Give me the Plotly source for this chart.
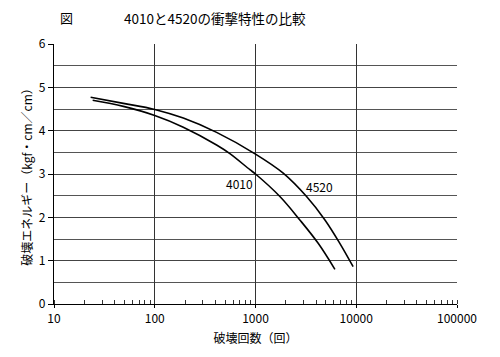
import plotly.graph_objects as go

# Data
x_4520 = [23.1, 48.8, 100, 192, 411, 1000, 1884, 3213, 4890, 6870, 9310]
y_4520 = [4.77, 4.63, 4.49, 4.29, 3.96, 3.46, 3.02, 2.48, 1.94, 1.40, 0.86]
x_4010 = [24.2, 48.8, 100, 192, 411, 557, 879, 1000, 1746, 2755, 4190, 6140]
y_4010 = [4.70, 4.56, 4.35, 4.08, 3.67, 3.47, 3.10, 3.00, 2.48, 1.94, 1.40, 0.80]

series_names = ["4010", "4520"]
x_ticks = [10, 100, 1000, 10000, 100000]
x_tick_labels = ["10", "100", "1000", "10000", "100000"]
y_ticks = [0, 1, 2, 3, 4, 5, 6]

FONT = "Noto Sans CJK JP, Liberation Sans, sans-serif"

# page body has an 8px margin; figure size compensates
OFF = 8
W, H = 500 - OFF, 357 - OFF
ML, MR, MT, MB = 54 - OFF, 43, 44 - OFF, 53

fig = go.Figure()
for name, xs, ys in [(series_names[0], x_4010, y_4010), (series_names[1], x_4520, y_4520)]:
    fig.add_trace(go.Scatter(
        x=xs, y=ys, mode="lines", name=name,
        line=dict(color="black", width=1.6, shape="spline", smoothing=1.0),
        showlegend=False,
    ))

# Curve labels
fig.add_annotation(x=2.845, y=2.79, xref="x", yref="y", text=series_names[0],
                   showarrow=False, font=dict(family=FONT, size=12, color="black"))
fig.add_annotation(x=3.639, y=2.71, xref="x", yref="y", text=series_names[1],
                   showarrow=False, font=dict(family=FONT, size=12, color="black"))


def px_to_paper(px, py):
    fx = px - OFF
    fy = py - OFF
    return (fx - ML) / (W - ML - MR), (H - fy - MB) / (H - MT - MB)


tx, ty = px_to_paper(58, 18)
fig.add_annotation(x=tx, y=ty, xref="paper", yref="paper", text="図",
                   showarrow=False, xanchor="left", yanchor="middle",
                   font=dict(family=FONT, size=13, color="black"))
tx, ty = px_to_paper(122, 18)
fig.add_annotation(x=tx, y=ty, xref="paper", yref="paper",
                   text="4010と4520の衝撃特性の比較",
                   showarrow=False, xanchor="left", yanchor="middle",
                   font=dict(family=FONT, size=13.5, color="black"))

fig.update_layout(
    width=W, height=H,
    margin=dict(l=ML, r=MR, t=MT, b=MB),
    paper_bgcolor="white", plot_bgcolor="white",
    font=dict(family=FONT, size=12, color="black"),
    xaxis=dict(
        type="log", range=[1, 5],
        tickvals=x_ticks, ticktext=x_tick_labels,
        showgrid=True, gridcolor="#333", gridwidth=1,
        showline=True, linecolor="black", linewidth=1.2,
        mirror=False,
        ticks="outside", ticklen=3, tickcolor="black",
        tickfont=dict(size=12),
        minor=dict(ticks="inside", ticklen=4, tickcolor="#333", showgrid=False,
                   dtick="D1"),
        title=dict(text="破壊回数（回）", font=dict(size=12), standoff=10),
        zeroline=False,
    ),
    yaxis=dict(
        range=[0, 6],
        tickvals=y_ticks,
        showgrid=True, gridcolor="#444", gridwidth=1,
        showline=True, linecolor="black", linewidth=1.2,
        ticks="outside", ticklen=5, tickcolor="black",
        tickfont=dict(size=12),
        minor=dict(dtick=0.5, showgrid=True, gridcolor="#555", gridwidth=1),
        title=dict(text="破壊エネルギー（kgf・cm／cm）", font=dict(size=12), standoff=3),
        zeroline=False,
    ),
)

fig.write_html("out.html")
